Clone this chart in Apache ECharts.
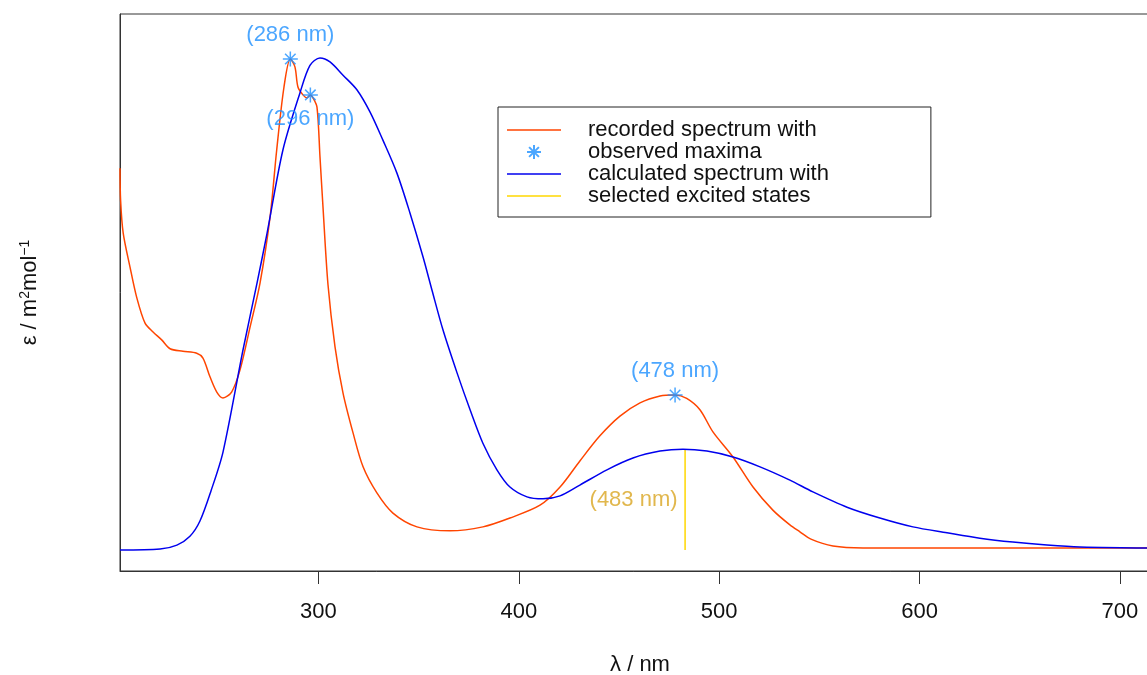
<!DOCTYPE html>
<html>
<head>
<meta charset="utf-8">
<script src="https://cdn.jsdelivr.net/npm/echarts@6/dist/echarts.min.js"></script>
<style>
  html, body { margin: 0; padding: 0; background: #fff; }
  #chart { width: 1147px; height: 675px; }
</style>
</head>
<body>
<div id="chart"></div>
<script>
// recorded spectrum (nm, arbitrary epsilon units)
var recordedNm = [201, 201.3, 202.6, 206, 209.3, 213.5, 217.5, 221.8, 226, 232.4, 239.3, 242.4, 245.9, 249.3, 252.4,
    256.7, 260.9, 265.9, 270.9, 275.9, 279.2, 282.8, 286, 288.3, 289.8, 292.3, 294.3, 296, 297.3, 299.3, 300.8,
    302.3, 304.8, 308.3, 312.3, 317.3, 322.3, 329.2, 337.2, 349.2, 365.7, 382.1, 395.6, 410.6, 420.6, 430.5, 440.5,
    450.5, 460.5, 470.5, 478, 483.8, 490.4, 496.9, 506.9, 516.9, 526.8, 535.3, 540.3, 545.8, 556.8,
    571.8, 640, 713.5, 720];
var recordedEps = [77.6, 71.1, 64.4, 57.5, 51.4, 46.1, 44.3, 42.7, 40.9, 40.4, 40.0, 39.0, 35.2, 32.1, 30.9,
    32.1, 36.6, 45.3, 54.3, 67.7, 81.3, 94.0, 99.8, 98.2, 94.1, 92.5, 91.9, 92.5, 91.9, 90.0, 79.9,
    69.7, 53.9, 41.3, 31.9, 23.8, 16.9, 11.6, 7.5, 4.7, 3.9, 4.7, 6.5, 9.1, 12.8, 18.1, 23.2,
    27.2, 29.9, 31.3, 31.5, 30.8, 28.5, 24.0, 18.9, 12.8, 8.1, 5.1, 3.7, 2.2, 0.8,
    0.4, 0.4, 0.4, 0.4];

// calculated spectrum
var calcNm = [201, 221, 229.4, 235.9, 240.9, 246.4, 252.4, 262.4, 269.4, 274.4, 282.3, 290.8, 295.8, 300.8, 305.8,
    312.3, 319.3, 325.8, 332.2, 339.2, 345.7, 352.2, 356.7, 362.2, 369.2, 375.7, 382.1, 389.1, 395.6, 404.1,
    412.1, 420.6, 430.5, 444, 457, 470.5, 481.9, 493.9, 506.9, 520.4, 535.3, 546.8, 563.8, 580.2, 596.7,
    613.7, 630.1, 646.6, 663.6, 680, 713.5, 720];
var calcEps = [0, 0.2, 1.0, 2.8, 5.9, 12.0, 19.9, 40.7, 54.3, 64.4, 81.3, 92.9, 98.5, 100, 99.2,
    96.5, 93.5, 89.0, 83.3, 76.6, 68.5, 59.6, 52.8, 44.7, 36.0, 28.5, 21.7, 16.3, 12.8, 10.8,
    10.4, 11.0, 13.2, 16.3, 18.7, 20.1, 20.5, 20.1, 18.9, 16.9, 14.2, 11.8, 8.7, 6.5, 4.7,
    3.5, 2.4, 1.6, 1.0, 0.6, 0.4, 0.3];

// observed maxima
var maximaNm = [286, 296, 478];
var maximaEps = [99.8, 92.5, 31.5];
var maximaLabelPos = ['top', 'bottom', 'top'];

// selected excited state
var stateNm = [483];
var stateEps = [20.5];

var xTicks = [300, 400, 500, 600, 700];

var FONT = 'Liberation Sans';
var FS = 22;

function pairs(xs, ys) {
    return xs.map(function (x, i) { return [x, ys[i]]; });
}

var star = 'path://M0,-1L0,1M-1,0L1,0M-0.7,-0.7L0.7,0.7M-0.7,0.7L0.7,-0.7';
var bar = 'path://M0,0H40V1H0Z';

var maximaData = maximaNm.map(function (nm, i) {
    return {
        value: [nm, maximaEps[i]],
        label: { position: maximaLabelPos[i] }
    };
});

var stickData = [];
stateNm.forEach(function (nm, i) {
    stickData.push([nm, 0], [nm, stateEps[i]], null);
});
var stickLabelData = stateNm.map(function (nm, i) { return [nm, stateEps[i] / 2]; });

var chart = echarts.init(document.getElementById('chart'));
option = {
    animation: false,
    textStyle: { fontFamily: FONT },
    grid: {
        left: 120, top: 14, right: -13, bottom: 104,
        outerBoundsMode: 'none',
        containLabel: false,
        show: true, borderColor: '#333', borderWidth: 1, backgroundColor: 'transparent'
    },
    legend: {
        orient: 'vertical',
        left: 498, top: 107,
        padding: [12, 102, 10, 9],
        itemGap: 0,
        itemWidth: 54,
        itemHeight: 14,
        borderColor: '#222',
        borderWidth: 1,
        backgroundColor: '#fff',
        textStyle: { fontSize: FS, color: '#111', lineHeight: 21.7, padding: [0, 0, 0, 22], fontFamily: FONT },
        data: [
            { name: 'recorded spectrum with', icon: bar },
            { name: 'observed maxima' },
            { name: 'calculated spectrum with', icon: bar },
            { name: 'selected excited states', icon: bar }
        ]
    },
    xAxis: {
        type: 'value',
        min: 201, max: 720,
        name: 'λ / nm',
        nameLocation: 'middle',
        nameGap: 83,
        nameTextStyle: { fontSize: FS, color: '#111' },
        axisLine: { show: true, onZero: false, lineStyle: { color: '#333', width: 1 } },
        axisTick: { show: true, length: 13, customValues: xTicks, lineStyle: { color: '#333' } },
        axisLabel: { show: true, fontSize: FS, color: '#111', margin: 30, customValues: xTicks },
        splitLine: { show: false }
    },
    yAxis: {
        type: 'value',
        min: -4.27, max: 108.94,
        name: 'ε / m{sup|2}mol{sup|−1}',
        nameLocation: 'middle',
        nameGap: 78,
        nameRotate: 90,
        nameTextStyle: {
            fontSize: FS, color: '#111',
            rich: { sup: { fontSize: 14, color: '#111', padding: [0, 0, 10, 0] } }
        },
        axisLine: { show: true, onZero: false, lineStyle: { color: '#333', width: 1 } },
        axisTick: { show: false },
        axisLabel: { show: false },
        splitLine: { show: false }
    },
    series: [
        {
            name: 'recorded spectrum with',
            type: 'line',
            data: pairs(recordedNm, recordedEps),
            symbol: 'none',
            smooth: 0.3,
            lineStyle: { color: '#FF4500', width: 1.5 },
            itemStyle: { color: '#FF4500' },
            z: 3
        },
        {
            name: 'observed maxima',
            type: 'scatter',
            data: maximaData,
            symbol: star,
            symbolSize: 15,
            itemStyle: { color: 'none', borderColor: '#1E90FF', borderWidth: 1.5 },
            label: {
                show: true,
                distance: 3,
                fontSize: FS,
                color: '#1E90FF',
                formatter: function (p) { return '(' + p.value[0] + ' nm)'; }
            },
            z: 5
        },
        {
            name: 'calculated spectrum with',
            type: 'line',
            data: pairs(calcNm, calcEps),
            symbol: 'none',
            smooth: 0.3,
            lineStyle: { color: '#0000EE', width: 1.5 },
            itemStyle: { color: '#0000EE' },
            z: 4
        },
        {
            name: 'selected excited states',
            type: 'line',
            data: stickData,
            symbol: 'none',
            connectNulls: false,
            lineStyle: { color: '#FFD700', width: 1.5 },
            itemStyle: { color: '#FFD700' },
            z: 2
        },
        {
            name: 'stateLabel',
            type: 'scatter',
            data: stickLabelData,
            symbolSize: 1,
            itemStyle: { color: 'rgba(0,0,0,0)' },
            label: {
                show: true,
                position: 'left',
                distance: 7,
                fontSize: FS,
                color: '#DAA520',
                formatter: function (p) { return '(' + p.value[0] + ' nm)'; }
            },
            z: 5
        }
    ]
};
chart.setOption(option);
</script>
</body>
</html>
